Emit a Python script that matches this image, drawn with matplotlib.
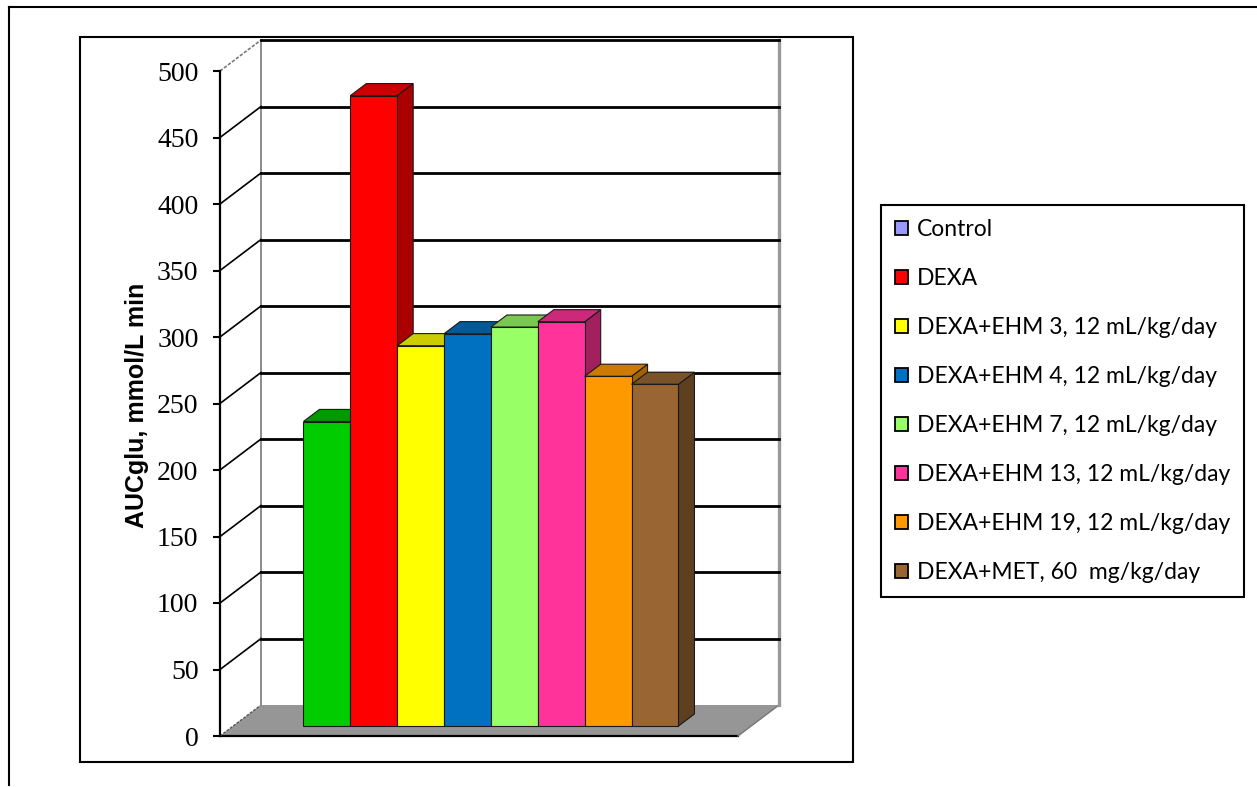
import numpy as np
import matplotlib
matplotlib.use("Agg")
import matplotlib.pyplot as plt
from matplotlib.patches import Polygon, Patch
from matplotlib.lines import Line2D
from matplotlib.transforms import IdentityTransform

W, H = 1257, 787

groups = ["Control", "DEXA", "DEXA+EHM 3, 12 mL/kg/day", "DEXA+EHM 4, 12 mL/kg/day",
          "DEXA+EHM 7, 12 mL/kg/day", "DEXA+EHM 13, 12 mL/kg/day",
          "DEXA+EHM 19, 12 mL/kg/day", "DEXA+MET, 60  mg/kg/day"]
auc = [229, 474, 286, 295, 300, 304, 263, 257]

front_colors = ["#00CC00", "#FF0000", "#FFFF00", "#0070C0", "#99FF66", "#FF3399", "#FF9900", "#996633"]
top_colors = ["#009900", "#CC0000", "#CCCC00", "#005A9A", "#7AC852", "#CC297A", "#CC7A00", "#7A5229"]
side_colors = ["#007A00", "#AA0000", "#A3A300", "#004A80", "#66AA44", "#A3205F", "#A36200", "#5E3F20"]
legend_colors = ["#9999FF"] + front_colors[1:]

yticks = list(range(0, 501, 50))

fig = plt.figure(figsize=(W / 100, H / 100), dpi=100)
fig.patch.set_facecolor("white")

# front plane of the 3d box
ax = fig.add_axes([220 / W, (H - 736) / H, (738 - 220) / W, (736 - 71) / H])
ax.set_xlim(-2.0, 9.05)
ax.set_ylim(0, 500)
ax.patch.set_visible(False)
for s in ["top", "right", "bottom"]:
    ax.spines[s].set_visible(False)
ax.spines["left"].set_linewidth(1.6)
ax.spines["left"].set_zorder(6)
ax.set_xticks([])
ax.set_yticks(yticks)
ax.tick_params(axis="y", direction="out", length=5, width=1.5, pad=10.5, labelsize=20)
for lab in ax.get_yticklabels():
    lab.set_family("Liberation Serif")

# depth offset in pixels, bars sit between d0 and d1
DX, DY = 41, 31
d0, d1 = 0.32, 0.71
xmin, xmax = ax.get_xlim()


def proj(x, y, d):
    px, py = ax.transData.transform((x, y))
    return (px + d * DX, py + d * DY)


def poly(pts, fc, ec="none", lw=0, z=1):
    p = Polygon(pts, closed=True, facecolor=fc, edgecolor=ec, linewidth=lw,
                transform=IdentityTransform(), clip_on=False, zorder=z)
    ax.add_patch(p)


def seg(a, b, color, lw, z=2, ls="-"):
    ln = Line2D([a[0], b[0]], [a[1], b[1]], color=color, linewidth=lw, linestyle=ls,
                transform=IdentityTransform(), clip_on=False, zorder=z)
    ax.add_line(ln)


# floor
poly([proj(xmin, 0, 0), proj(xmax, 0, 0), proj(xmax, 0, 1), proj(xmin, 0, 1)], "#969696", z=1)
seg(proj(xmin, 0, 0), proj(xmax, 0, 0), "black", 1.6, z=2)
seg(proj(xmin, 0, 0), proj(xmin, 0, 1), "#555555", 1.0, z=2, ls=(0, (2, 1)))
seg(proj(xmax, 0, 0), proj(xmax, 0, 1), "#777777", 1.0, z=2)

# walls
seg(proj(xmin, 0, 1), proj(xmin, 500, 1), "#8C8C8C", 1.4, z=2)
seg(proj(xmax, 0, 1), proj(xmax, 500, 1), "#9A9A9A", 2.4, z=2)
seg(proj(xmin, 500, 0), proj(xmin, 500, 1), "#777777", 1.2, z=2, ls=(0, (2, 1)))
for y in yticks[1:]:
    seg(proj(xmin, y, 1), proj(xmax, y, 1), "black", 2.0, z=2)
    if y < 500:
        seg(proj(xmin, y, 0), proj(xmin, y, 1), "black", 1.2, z=2)

# bars, left to right so each front face hides the previous side face
for i, v in enumerate(auc):
    xl, xr = i - 0.5, i + 0.5
    poly([proj(xr, 0, d0), proj(xr, 0, d1), proj(xr, v, d1), proj(xr, v, d0)],
         side_colors[i], "#1a1a1a", 0.8, z=3)
    poly([proj(xl, v, d0), proj(xr, v, d0), proj(xr, v, d1), proj(xl, v, d1)],
         top_colors[i], "#1a1a1a", 0.8, z=3)
    poly([proj(xl, 0, d0), proj(xr, 0, d0), proj(xr, v, d0), proj(xl, v, d0)],
         front_colors[i], "#1a1a1a", 0.8, z=3)

fig.text(137 / W, 1 - 405 / H, "AUCglu, mmol/L min", rotation=90, ha="center", va="center",
         fontsize=18, fontweight="bold", family="Liberation Sans")

# plot area frame and outer chart border
fig.add_artist(plt.Rectangle((80 / W, 1 - 762 / H), (853 - 80) / W, (762 - 37) / H,
                             fill=False, edgecolor="black", linewidth=1.5,
                             transform=fig.transFigure))
fig.add_artist(Line2D([9 / W, 1.0], [1 - 7 / H, 1 - 7 / H], color="black", linewidth=1.5,
                      transform=fig.transFigure))
fig.add_artist(Line2D([9 / W, 9 / W], [1 - 7 / H, 1 - 785 / H], color="black", linewidth=1.5,
                      transform=fig.transFigure))

handles = [Patch(facecolor=c, edgecolor="black", linewidth=1.3) for c in legend_colors]
leg = fig.legend(handles, groups, loc="upper left", bbox_to_anchor=(881 / W, 1 - 205 / H),
                 frameon=True, fancybox=False, edgecolor="black", framealpha=1,
                 borderaxespad=0, borderpad=0.62, handlelength=0.57, handleheight=0.57,
                 handletextpad=0.38, labelspacing=1.22,
                 prop={"family": "Lato", "size": 16.5})
leg.get_frame().set_linewidth(1.5)

fig.savefig("out.png", dpi=100)
